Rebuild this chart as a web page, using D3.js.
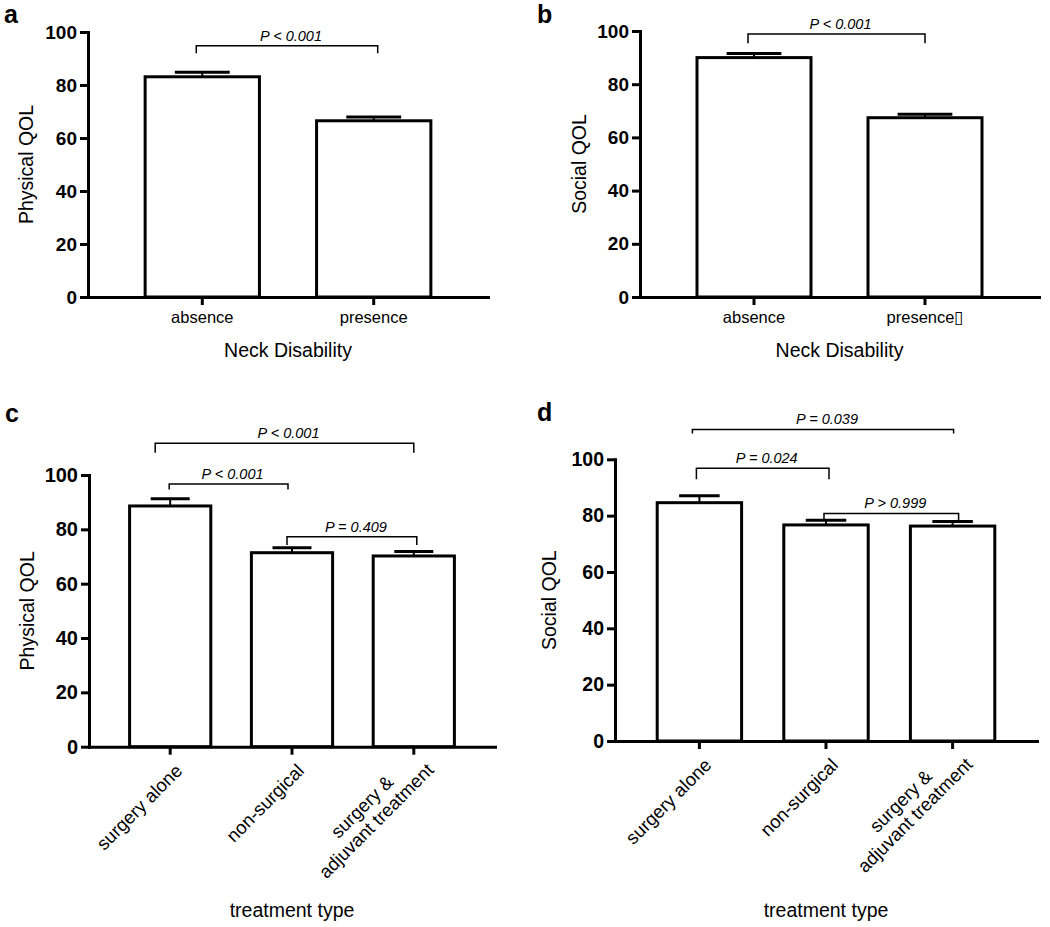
<!DOCTYPE html>
<html><head><meta charset="utf-8">
<script src="https://cdn.jsdelivr.net/npm/d3@7"></script>
<style>
body{margin:0;background:#fff}
svg{display:block}
text{font-family:"Liberation Sans",Arial,Helvetica,sans-serif;fill:#000}
</style>
</head><body>
<svg id="chart" width="1050" height="927"></svg>
<script>
// ---------- data ----------
const yTickValues = [0, 20, 40, 60, 80, 100];

const neckCategoriesA = ["absence", "presence"];
const neckCategoriesB = ["absence", "presence\u25AF"];
const treatmentCategories = ["surgery alone", "non-surgical", "surgery &\nadjuvant treatment"];

const physicalNeckMean = [83.1, 66.5];
const physicalNeckUpper = [84.8, 67.9];
const socialNeckMean = [90.0, 67.4];
const socialNeckUpper = [91.5, 68.7];
const physicalTreatMean = [88.6, 71.4, 70.2];
const physicalTreatUpper = [91.3, 73.2, 71.8];
const socialTreatMean = [84.6, 76.7, 76.3];
const socialTreatUpper = [87.1, 78.4, 77.9];

// brackets: [fromIndex, toIndex, lineValue, endValue, label]
const bracketsA = [[0, 1, 94.8, 92.0, "P < 0.001"]];
const bracketsB = [[0, 1, 98.9, 95.4, "P < 0.001"]];
const bracketsC = [[0, 2, 111.7, 108.2, "P < 0.001"], [0, 1, 96.7, 94.7, "P < 0.001"], [1, 2, 77.3, 74.2, "P = 0.409"]];
const bracketsD = [[0, 2, 110.6, 109.2, "P = 0.039"], [0, 1, 96.8, 92.9, "P = 0.024"], [1, 2, 80.8, 78.2, "P > 0.999"]];

// ---------- layout ----------
const panels = [
  {letter: "a", lx: 4, ly: 23, cats: neckCategoriesA, mean: physicalNeckMean, upper: physicalNeckUpper,
   brackets: bracketsA, nudge: [[-6, 4]], ylabel: "Physical QOL", xlabel: "Neck Disability",
   x0: 88, x1: 488, yTop: 32, yBot: 297, rotated: false, ylabOff: 62, xlabY: 357, tickFont: 19},
  {letter: "b", lx: 537, ly: 23, cats: neckCategoriesB, mean: socialNeckMean, upper: socialNeckUpper,
   brackets: bracketsB, nudge: [[-6, 0]], ylabel: "Social QOL", xlabel: "Neck Disability",
   x0: 640, x1: 1039, yTop: 31, yBot: 297, rotated: false, ylabOff: 61, xlabY: 357, tickFont: 19},
  {letter: "c", lx: 5, ly: 422, cats: treatmentCategories, mean: physicalTreatMean, upper: physicalTreatUpper,
   brackets: bracketsC, nudge: [[-15, 0], [-1, -4], [-5, 3]], ylabel: "Physical QOL", xlabel: "treatment type",
   x0: 89, x1: 495, yTop: 475, yBot: 746.7, rotated: true, ylabOff: 62, xlabY: 917, tickFont: 20},
  {letter: "d", lx: 537, ly: 421, cats: treatmentCategories, mean: socialTreatMean, upper: socialTreatUpper,
   brackets: bracketsD, nudge: [[-7, 1], [-3, 3], [-2, 6]], ylabel: "Social QOL", xlabel: "treatment type",
   x0: 615, x1: 1037, yTop: 459.3, yBot: 741, rotated: true, ylabOff: 66, xlabY: 917, tickFont: 19.5}
];

const svg = d3.select("#chart");

panels.forEach(p => {
  const g = svg.append("g");
  const x = d3.scaleBand().domain(p.cats).range([p.x0, p.x1]).paddingInner(1/3).paddingOuter(1/3);
  const y = d3.scaleLinear().domain([0, 100]).range([p.yBot, p.yTop]);

  // panel letter
  svg.append("text").attr("x", p.lx).attr("y", p.ly).attr("font-size", 25).attr("font-weight", "bold").text(p.letter);

  // bars
  g.selectAll("rect.bar").data(p.cats).join("rect")
    .attr("x", d => x(d)).attr("width", x.bandwidth())
    .attr("y", (d, i) => y(p.mean[i])).attr("height", (d, i) => y(0) - y(p.mean[i]))
    .attr("fill", "#fff").attr("stroke", "#000").attr("stroke-width", 3);

  // error bars (upper)
  const capW = x.bandwidth() * 0.48;
  p.cats.forEach((c, i) => {
    const cx = x(c) + x.bandwidth() / 2;
    g.append("line").attr("x1", cx).attr("x2", cx).attr("y1", y(p.mean[i])).attr("y2", y(p.upper[i]))
      .attr("stroke", "#000").attr("stroke-width", 2);
    g.append("line").attr("x1", cx - capW / 2).attr("x2", cx + capW / 2).attr("y1", y(p.upper[i])).attr("y2", y(p.upper[i]))
      .attr("stroke", "#000").attr("stroke-width", 3);
  });

  // y axis
  const ya = g.append("g").attr("transform", `translate(${p.x0},0)`)
    .call(d3.axisLeft(y).tickValues(yTickValues).tickSize(8).tickSizeOuter(0).tickPadding(3));
  ya.select(".domain").attr("stroke-width", 3).attr("stroke-linecap", "square");
  ya.selectAll(".tick line").attr("stroke-width", 3);
  ya.selectAll(".tick text").attr("font-size", p.tickFont).attr("font-weight", "bold")
    .attr("font-family", "'Liberation Sans', Arial, sans-serif");

  // x axis
  const xa = g.append("g").attr("transform", `translate(0,${p.yBot})`)
    .call(d3.axisBottom(x).tickSize(8).tickSizeOuter(0).tickPadding(6));
  xa.select(".domain").attr("stroke-width", 3).attr("stroke-linecap", "square");
  xa.selectAll(".tick line").attr("stroke-width", 3);
  if (!p.rotated) {
    xa.selectAll(".tick text").attr("font-size", 16.5).attr("font-family", "'Liberation Sans', Arial, sans-serif");
  } else {
    xa.selectAll(".tick text").remove();
    xa.selectAll(".tick").each(function(d) {
      const lines = d.split("\n");
      const t = d3.select(this).append("g").attr("transform", "translate(6,18) rotate(-45)");
      const fs = 18.5;
      if (lines.length === 1) {
        t.append("text").attr("text-anchor", "end").attr("font-size", fs).attr("y", fs * 0.55).attr("fill", "#000").text(lines[0]);
      } else {
        const t2 = t.append("text").attr("text-anchor", "end").attr("font-size", fs).attr("fill", "#000")
          .attr("x", 6).attr("y", fs * 0.55 + 5).text(lines[1]);
        const t1 = t.append("text").attr("text-anchor", "end").attr("font-size", fs).attr("fill", "#000")
          .attr("y", fs * 0.55 + 5 - 20).text(lines[0]);
        const l2 = t2.node().getComputedTextLength(), l1 = t1.node().getComputedTextLength();
        t1.attr("x", 6 - (l2 - l1) / 2);
      }
    });
  }

  // axis titles
  svg.append("text").attr("text-anchor", "middle").attr("font-size", 19.5)
    .attr("transform", `translate(${p.x0 - p.ylabOff},${(p.yTop + p.yBot) / 2}) rotate(-90)`)
    .attr("dy", "0.35em").text(p.ylabel);
  svg.append("text").attr("text-anchor", "middle").attr("font-size", 19.5)
    .attr("x", (p.x0 + p.x1) / 2).attr("y", p.xlabY).text(p.xlabel);

  // significance brackets
  p.brackets.forEach((b, k) => {
    const [fi, ti, lv, ev, lab] = b;
    const nd = p.nudge[k] || [0, 0];
    const xl = x(p.cats[fi]) + x.bandwidth() / 2 + nd[0];
    const xr = x(p.cats[ti]) + x.bandwidth() / 2 + nd[1];
    g.append("path").attr("d", `M${xl},${y(ev)}V${y(lv)}H${xr}V${y(ev)}`)
      .attr("fill", "none").attr("stroke", "#000").attr("stroke-width", 1.5);
    g.append("text").attr("text-anchor", "middle").attr("font-size", 14.5).attr("font-style", "italic")
      .attr("x", (xl + xr) / 2 + 4).attr("y", y(lv) - 5).text(lab);
  });
});
</script>
</body></html>
